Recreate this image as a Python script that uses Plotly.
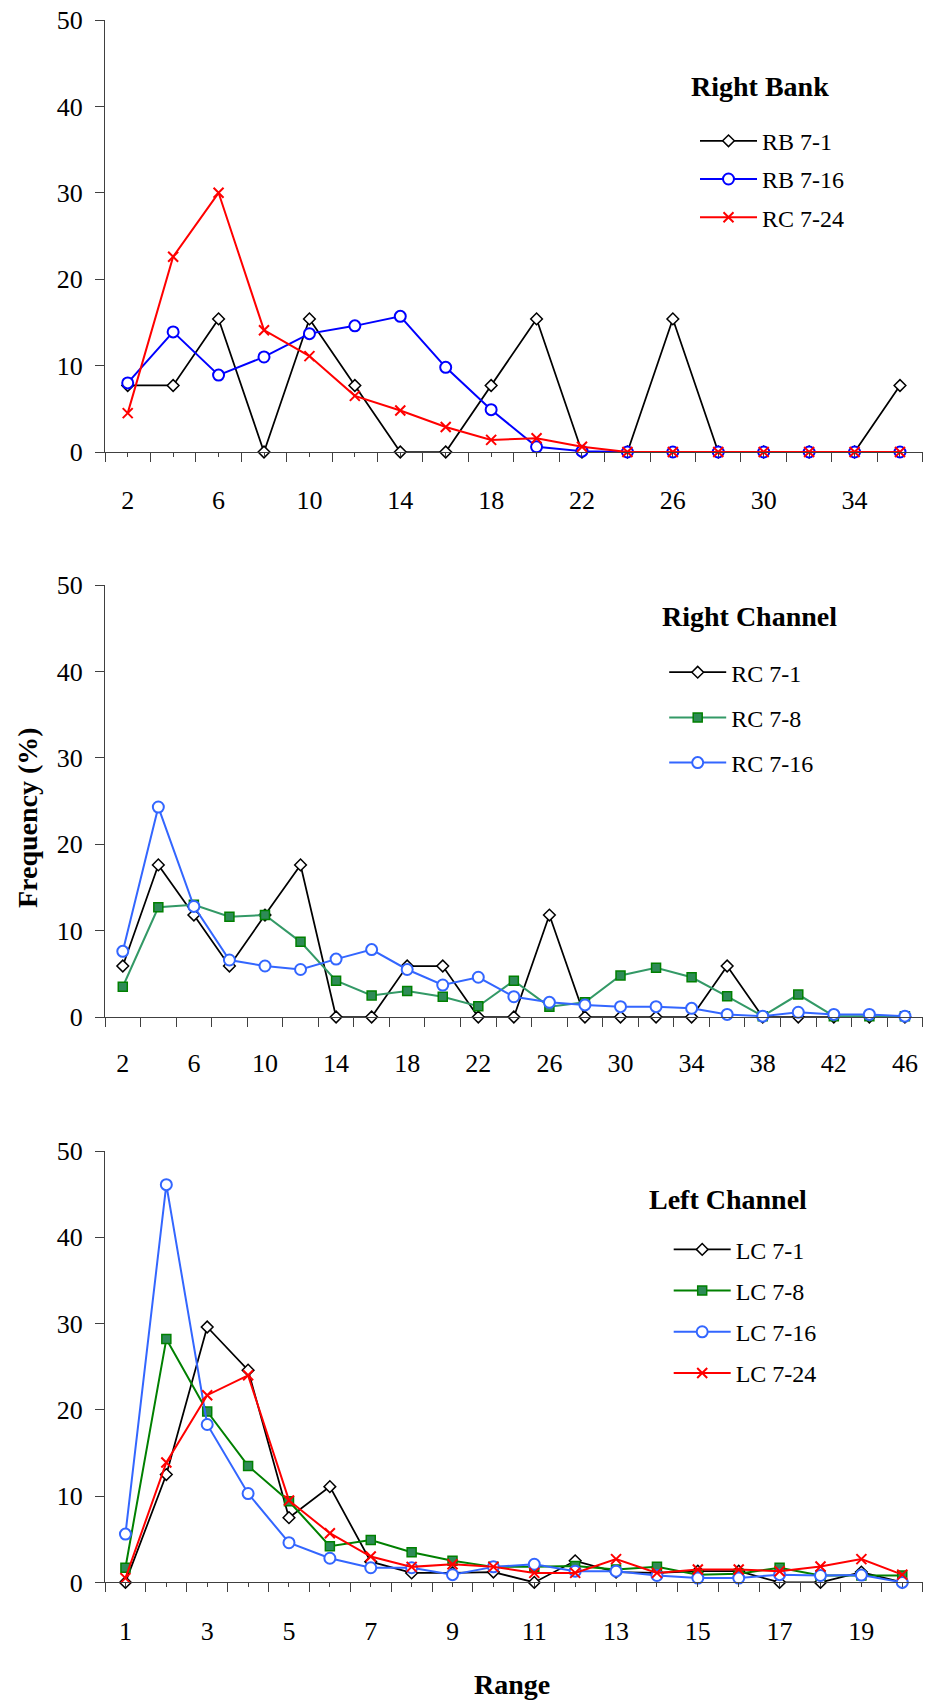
import plotly.graph_objects as go

FONT = "Liberation Serif"
AXC = "#404040"
W, H = 925, 1702

# ---------------- Panel 1: Right Bank ----------------
rb_range = [2, 4, 6, 8, 10, 12, 14, 16, 18, 20, 22, 24, 26, 28, 30, 32, 34, 36]
rb_7_1 = [7.7, 7.7, 15.4, 0, 15.4, 7.7, 0, 0, 7.7, 15.4, 0, 0, 15.4, 0, 0, 0, 0, 7.7]
rb_7_16 = [8.0, 13.9, 8.9, 11.0, 13.7, 14.6, 15.7, 9.8, 4.9, 0.6, 0.1, 0, 0, 0, 0, 0, 0, 0]
rc_7_24 = [4.5, 22.6, 30.0, 14.1, 11.1, 6.5, 4.8, 2.9, 1.4, 1.6, 0.6, 0, 0, 0, 0, 0, 0, 0]
rb_tick_labels = ["2", "6", "10", "14", "18", "22", "26", "30", "34"]

# ---------------- Panel 2: Right Channel ----------------
rc_range = [2, 4, 6, 8, 10, 12, 14, 16, 18, 20, 22, 24, 26, 28, 30, 32, 34, 36, 38, 40, 42, 44, 46]
rc_7_1 = [5.9, 17.6, 11.8, 5.9, 11.8, 17.6, 0, 0, 5.9, 5.9, 0, 0, 11.8, 0, 0, 0, 0, 5.9, 0, 0, 0, 0, 0]
rc_7_8 = [3.5, 12.7, 13.0, 11.6, 11.8, 8.7, 4.2, 2.5, 3.0, 2.35, 1.25, 4.2, 1.2, 1.7, 4.8, 5.7, 4.6, 2.4, 0.1, 2.6, 0.1, 0.1, 0.1]
rc_7_16 = [7.6, 24.3, 12.8, 6.6, 5.9, 5.5, 6.7, 7.8, 5.5, 3.7, 4.6, 2.35, 1.7, 1.4, 1.2, 1.2, 1.0, 0.3, 0.1, 0.55, 0.3, 0.3, 0.1]
rc_tick_labels = ["2", "6", "10", "14", "18", "22", "26", "30", "34", "38", "42", "46"]

# ---------------- Panel 3: Left Channel ----------------
lc_range = [1, 2, 3, 4, 5, 6, 7, 8, 9, 10, 11, 12, 13, 14, 15, 16, 17, 18, 19, 20]
lc_7_1 = [0, 12.5, 29.6, 24.6, 7.5, 11.1, 2.4, 1.1, 1.1, 1.2, 0, 2.5, 1.2, 1.1, 1.3, 1.3, 0, 0, 1.2, 0]
lc_7_8 = [1.7, 28.2, 19.8, 13.5, 9.4, 4.2, 4.9, 3.5, 2.5, 1.8, 1.8, 1.9, 1.5, 1.8, 0.9, 1.0, 1.7, 0.8, 0.8, 0.8]
lc_7_16 = [5.6, 46.1, 18.3, 10.3, 4.6, 2.8, 1.7, 1.7, 0.9, 1.8, 2.1, 1.3, 1.3, 0.8, 0.5, 0.5, 0.9, 0.8, 0.85, 0]
lc_7_24 = [0.5, 13.9, 21.7, 24.0, 9.5, 5.7, 3.0, 1.8, 2.1, 1.8, 1.1, 1.1, 2.7, 1.1, 1.5, 1.5, 1.3, 1.85, 2.7, 0.9]
lc_tick_labels = ["1", "3", "5", "7", "9", "11", "13", "15", "17", "19"]

y_ticks = [0, 10, 20, 30, 40, 50]

STY = {
    "diamond": dict(symbol="diamond", size=9, color="white", line=dict(color="black", width=1.5)),
    "circle_b": dict(symbol="circle", size=11, color="white", line=dict(color="#0000FF", width=2)),
    "circle_lb": dict(symbol="circle", size=11, color="white", line=dict(color="#3366FF", width=2)),
    "x": dict(symbol="x-thin", size=10, color="#FF0000", line=dict(color="#FF0000", width=2)),
    "square": dict(symbol="square", size=9, color="#2E8B57", line=dict(color="#008000", width=1.5)),
}

fig = go.Figure()


def add(x, y, name, idx, marker, lcolor, lw=2):
    sfx = "" if idx == 1 else str(idx)
    fig.add_trace(go.Scatter(
        x=x, y=y, name=name, mode="lines+markers",
        xaxis="x" + sfx, yaxis="y" + sfx, legend="legend" + sfx,
        legendgroup=name + sfx,
        line=dict(color=lcolor, width=lw), marker=marker, cliponaxis=False,
    ))


add(rb_range, rb_7_1, "RB 7-1", 1, STY["diamond"], "black", 1.75)
add(rb_range, rb_7_16, "RB 7-16", 1, STY["circle_b"], "#0000FF")
add(rb_range, rc_7_24, "RC 7-24", 1, STY["x"], "#FF0000")

add(rc_range, rc_7_1, "RC 7-1", 2, STY["diamond"], "black", 1.75)
add(rc_range, rc_7_8, "RC 7-8", 2, STY["square"], "#339966")
add(rc_range, rc_7_16, "RC 7-16", 2, STY["circle_lb"], "#3366FF")

add(lc_range, lc_7_1, "LC 7-1", 3, STY["diamond"], "black", 1.75)
add(lc_range, lc_7_8, "LC 7-8", 3, STY["square"], "#008000")
add(lc_range, lc_7_16, "LC 7-16", 3, STY["circle_lb"], "#3366FF")
add(lc_range, lc_7_24, "LC 7-24", 3, STY["x"], "#FF0000")


def px(sx):
    return sx / W


def py(sy):
    return 1 - sy / H


XDOM = [px(105), px(922.7)]


def ydom(top_px, bottom_px):
    return [py(bottom_px), py(top_px)]


def xaxis(cats, labels, anchor, major_len, standoff):
    step = cats[1] - cats[0]
    texts = [str(c) if str(c) in labels else "" for c in cats]
    return dict(
        domain=XDOM, anchor=anchor, automargin=False,
        range=[cats[0] - step / 2, cats[-1] + step / 2],
        tickmode="array", tickvals=cats, ticktext=texts,
        ticks="outside", ticklen=major_len, tickwidth=1, tickcolor=AXC,
        showline=True, linecolor=AXC, linewidth=1,
        showgrid=False, zeroline=False,
        tickfont=dict(family=FONT, size=26, color="black"),
        ticklabelstandoff=standoff, ticklabeloverflow="allow",
        minor=dict(tickmode="linear", tick0=cats[0] - step / 2, dtick=step,
                   ticks="outside", ticklen=9, tickwidth=1, tickcolor=AXC, showgrid=False),
    )


def yaxis(dom, anchor):
    return dict(
        domain=dom, anchor=anchor, automargin=False, range=[0, 50],
        tickmode="array", tickvals=y_ticks,
        ticks="outside", ticklen=9, tickwidth=1, tickcolor=AXC,
        showline=True, linecolor=AXC, linewidth=1,
        showgrid=False, zeroline=False,
        tickfont=dict(family=FONT, size=26, color="black"),
        ticklabelstandoff=7, ticklabeloverflow="allow",
    )


def legend(sx, sy, gap):
    return dict(
        x=px(sx), y=py(sy), xanchor="left", yanchor="top",
        bgcolor="rgba(0,0,0,0)", borderwidth=0,
        font=dict(family=FONT, size=24, color="black"),
        itemwidth=57, tracegroupgap=gap, traceorder="grouped",
    )


fig.update_layout(
    template="none",
    width=W, height=H, autosize=False,
    margin=dict(l=0, r=0, t=0, b=0, pad=0),
    paper_bgcolor="white", plot_bgcolor="white",
    font=dict(family=FONT, color="black"),
    showlegend=True,
    xaxis=xaxis(rb_range, rb_tick_labels, "y", 4, 21),
    yaxis=yaxis(ydom(20, 452), "x"),
    xaxis2=xaxis(rc_range, rc_tick_labels, "y2", 0, 23),
    yaxis2=yaxis(ydom(585, 1017), "x2"),
    xaxis3=xaxis(lc_range, lc_tick_labels, "y3", 4, 21),
    yaxis3=yaxis(ydom(1151, 1582.4), "x3"),
    legend=legend(695, 118.7, 4),
    legend2=legend(664.2, 650.1, 11),
    legend3=legend(668.7, 1227.3, 7),
)

TITLE_FONT = dict(family=FONT, size=28, color="black")
ann = [
    ("<b>Right Bank</b>", 760, 87),
    ("<b>Right Channel</b>", 749, 617),
    ("<b>Left Channel</b>", 728, 1199),
    ("<b>Range</b>", 512, 1684),
]
for text, sx, sy in ann:
    fig.add_annotation(text=text, x=px(sx), y=py(sy), xref="paper", yref="paper",
                       xanchor="center", yanchor="middle", showarrow=False, font=TITLE_FONT)
fig.add_annotation(text="<b>Frequency (%)</b>", x=px(27), y=py(818), xref="paper", yref="paper",
                   xanchor="center", yanchor="middle", showarrow=False, textangle=-90, font=TITLE_FONT)

# remove the default 8px page margin so the figure fills the window exactly
fig.write_html(
    "out.html",
    config={"displayModeBar": False},
    post_script="document.body.style.margin='0';document.body.style.overflow='hidden';",
)
